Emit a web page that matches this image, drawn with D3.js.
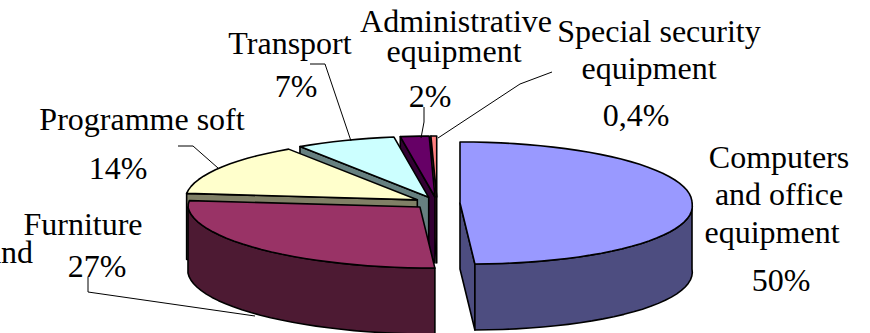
<!DOCTYPE html>
<html>
<head>
<meta charset="utf-8">
<script src="https://cdn.jsdelivr.net/npm/d3@7"></script>
<style>
  html, body { margin: 0; padding: 0; background: #fff; overflow: hidden; }
  text { font-family: "Liberation Serif", serif; font-size: 32px; fill: #000; }
</style>
</head>
<body>
<svg id="chart" width="870" height="333"></svg>
<script>
"use strict";

// values as printed on the slices
var categories = ["Computers and office equipment", "Furniture and", "Programme soft", "Transport", "Administrative equipment", "Special security equipment"];
var shares = [50, 27, 14, 7, 2, 0.4];
var shareLabels = ["50%", "27%", "14%", "7%", "2%", "0,4%"];

// top face and side colours, same order as categories
var topColors = ["#9999ff", "#993366", "#ffffcc", "#ccffff", "#660066", "#ff8080"];
var sideColors = ["#4d4d80", "#4d1a33", "#808066", "#668080", "#330033", "#804040"];

// the wrapped label lines, each line is one text element
var labelLines = [
  {t: "Computers", x: 779, y: 168}, {t: "and office", x: 779, y: 205}, {t: "equipment", x: 772, y: 243}, {t: shareLabels[0], x: 781, y: 291},
  {t: "Furniture", x: 83, y: 235}, {t: "and", x: 10, y: 263}, {t: shareLabels[1], x: 97, y: 277},
  {t: "Programme soft", x: 142, y: 130}, {t: shareLabels[2], x: 118, y: 179},
  {t: "Transport", x: 290, y: 54}, {t: shareLabels[3], x: 296, y: 97},
  {t: "Administrative", x: 456, y: 32}, {t: "equipment", x: 454, y: 62}, {t: shareLabels[4], x: 430, y: 107},
  {t: "Special security", x: 659, y: 42}, {t: "equipment", x: 649, y: 79}, {t: shareLabels[5], x: 636, y: 126}
];

// leader lines from label to slice
var leaders = [
  [[310, 64], [325, 64], [351, 141]],
  [[424, 107], [424, 122], [421, 138]],
  [[438, 138], [520, 84], [552, 72]],
  [[178, 146], [193, 146], [218, 168]],
  [[88, 277], [88, 292], [255, 316]]
];

var cx = 437, cy = 203, rx = 232, ry = 61, depth = 66, explode = 23, skew = 12;

var svg = d3.select("#chart");

var pie = d3.pie().sort(null);
var arcs = pie(shares);

// tilted disc: angle 0 is at the back, going clockwise
function project(a, r, o, h) {
  var s = Math.sin(a), c = Math.cos(a);
  var shift = c < 0 ? -c * skew * r : 0;
  return [o[0] + s * rx * r + shift, o[1] - c * ry * r + h];
}

function origin(d) {
  var mid = (d.startAngle + d.endAngle) / 2;
  return [cx + Math.sin(mid) * explode, cy - Math.cos(mid) * explode * ry / rx];
}

function arcPoints(d, o, h, reverse) {
  var n = Math.max(2, Math.ceil((d.endAngle - d.startAngle) / 0.06));
  var pts = d3.range(n + 1).map(function(i) {
    return project(d.startAngle + (d.endAngle - d.startAngle) * i / n, 1, o, h);
  });
  return reverse ? pts.reverse() : pts;
}

var line = d3.line();

function closed(pts) { return line(pts) + "Z"; }

// back slices first, the exploded front ones over them
var order = d3.range(arcs.length).reverse().slice(0, 5).concat([0]);

order.forEach(function(i) {
  var d = arcs[i];
  var o = origin(d);
  var g = svg.append("g")
    .attr("stroke", "#000")
    .attr("stroke-width", 1.6)
    .attr("stroke-linejoin", "round");

  // only the cut faces turned to the viewer
  var faces = [];
  if (d.startAngle >= Math.PI) faces.push(d.startAngle);
  if (d.endAngle <= Math.PI + 0.001) faces.push(d.endAngle);
  faces.forEach(function(a) {
    var p = project(a, 1, o, 0);
    g.append("path")
      .attr("d", closed([o, p, [p[0], p[1] + depth], [o[0], o[1] + depth]]))
      .attr("fill", sideColors[i]);
  });

  // outer wall, only the part that faces the viewer
  var from = Math.max(d.startAngle, Math.PI / 2);
  var to = Math.min(d.endAngle, Math.PI * 1.5);
  if (to > from) {
    var part = {startAngle: from, endAngle: to};
    var wall = arcPoints(part, o, 0, false).concat(arcPoints(part, o, depth, true));
    g.append("path").attr("d", closed(wall)).attr("fill", sideColors[i]);
  }

  g.append("path")
    .attr("d", closed([o].concat(arcPoints(d, o, 0, false))))
    .attr("fill", topColors[i]);
});

svg.selectAll("path.leader")
  .data(leaders)
  .enter()
  .append("path")
  .attr("class", "leader")
  .attr("d", function(d) { return line(d); })
  .attr("fill", "none")
  .attr("stroke", "#000")
  .attr("stroke-width", 1);

svg.selectAll("text")
  .data(labelLines)
  .enter()
  .append("text")
  .attr("x", function(d) { return d.x; })
  .attr("y", function(d) { return d.y; })
  .attr("text-anchor", "middle")
  .text(function(d) { return d.t; });
</script>
</body>
</html>
